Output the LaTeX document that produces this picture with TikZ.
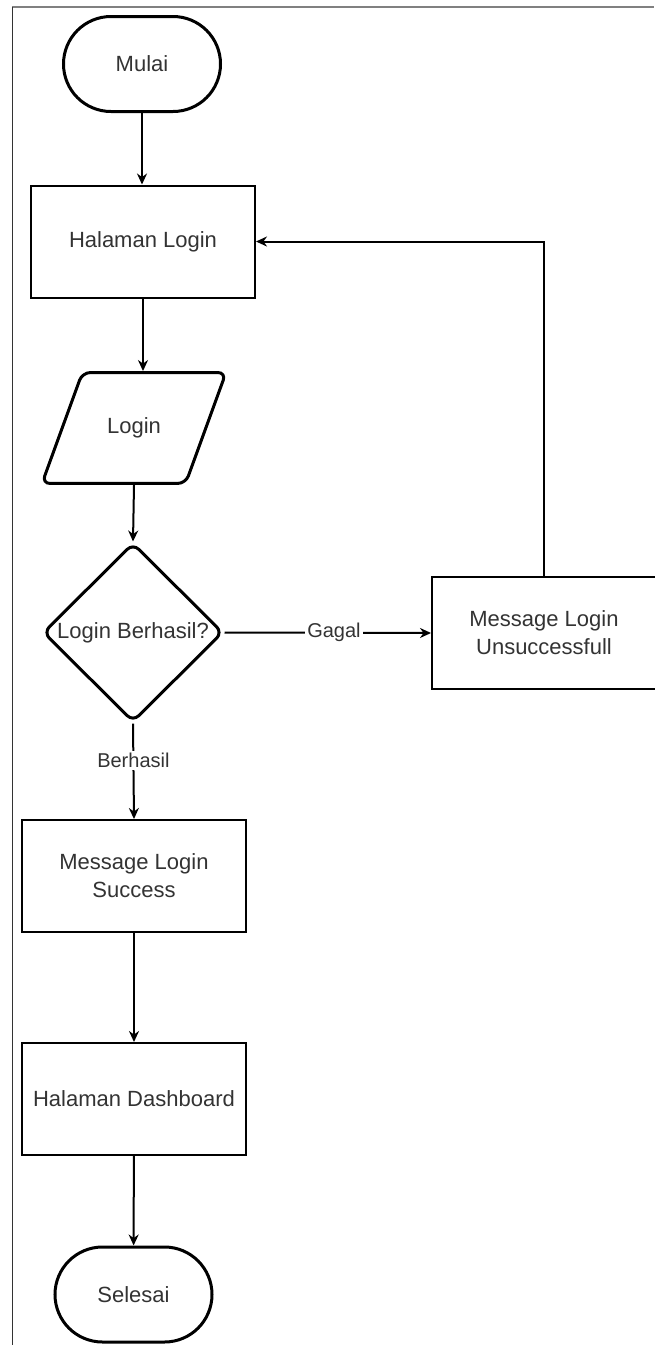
\documentclass[tikz,border=0pt]{standalone}
\usepackage{fontspec}
\setmainfont{Liberation Sans}
\usetikzlibrary{shapes.geometric,arrows.meta}

\tikzset{
  terminal/.style={draw, line width=1.5pt, rectangle, rounded corners=23.75pt,
    minimum width=78.5pt, minimum height=47.5pt, inner sep=0pt},
  proses/.style={draw, line width=1pt, rectangle, minimum width=112pt,
    minimum height=56pt, inner sep=0pt, align=center},
  datainput/.style={draw, line width=1.5pt, trapezium, trapezium left angle=70,
    trapezium right angle=110, trapezium stretches body, rounded corners=4pt,
    minimum width=92pt, inner xsep=0pt, inner ysep=22.6pt},
  keputusan/.style={draw, line width=1.5pt, diamond, rounded corners=4pt,
    minimum width=90pt, minimum height=89.5pt, inner sep=0pt},
  labelpanah/.style={fill=white, inner sep=1pt, font=\fontsize{10}{12}\selectfont}
}

\begin{document}
\begin{tikzpicture}[x=0.5pt, y=-0.5pt, >={Stealth[length=5.5pt,width=5pt]},
  line width=1pt, font=\fontsize{11}{14}\selectfont, text=black!80]

        \useasboundingbox (0,0) rectangle (654,1345);

        % Bingkai halaman
        \draw[gray, line width=1pt] (12,7) -- (654,7);
        \draw[black!80, line width=0.5pt] (12,7) -- (12,1345);

        % Simbol-simbol flowchart
        \node[terminal] (mulai) at (142,64) {Mulai};
        \node[proses] (hlogin) at (143,241.5) {Halaman Login};
        \node[datainput] (login) at (134,428) {Login};
        \node[keputusan] (cek) at (133,632.5) {Login Berhasil?};
        \node[proses] (gagalmsg) at (544,633) {Message Login\\Unsuccessfull};
        \node[proses] (sukses) at (134,876) {Message Login\\Success};
        \node[proses] (dashboard) at (134,1099) {Halaman Dashboard};
        \node[terminal] (selesai) at (133.5,1294.5) {Selesai};

        % Panah alur utama
        \draw[->] (mulai.south) -- (mulai.south |- hlogin.north);
        \draw[->] (hlogin.south) -- (hlogin.south |- login.north);
        \draw[->] (login.south) -- (cek.north);
        \draw[->] (cek.south) -- node[labelpanah, pos=0.39] {Berhasil} (sukses.north);
        \draw[->] (sukses) -- (dashboard);
        \draw[->] (dashboard) -- (selesai);

        % Cabang gagal, kembali ke halaman login
        \draw[->] (cek.east) -- node[labelpanah, pos=0.53] {Gagal} (gagalmsg.west);
        \draw[->] (gagalmsg.north) |- (hlogin.east);

    \end{tikzpicture}
\end{document}
